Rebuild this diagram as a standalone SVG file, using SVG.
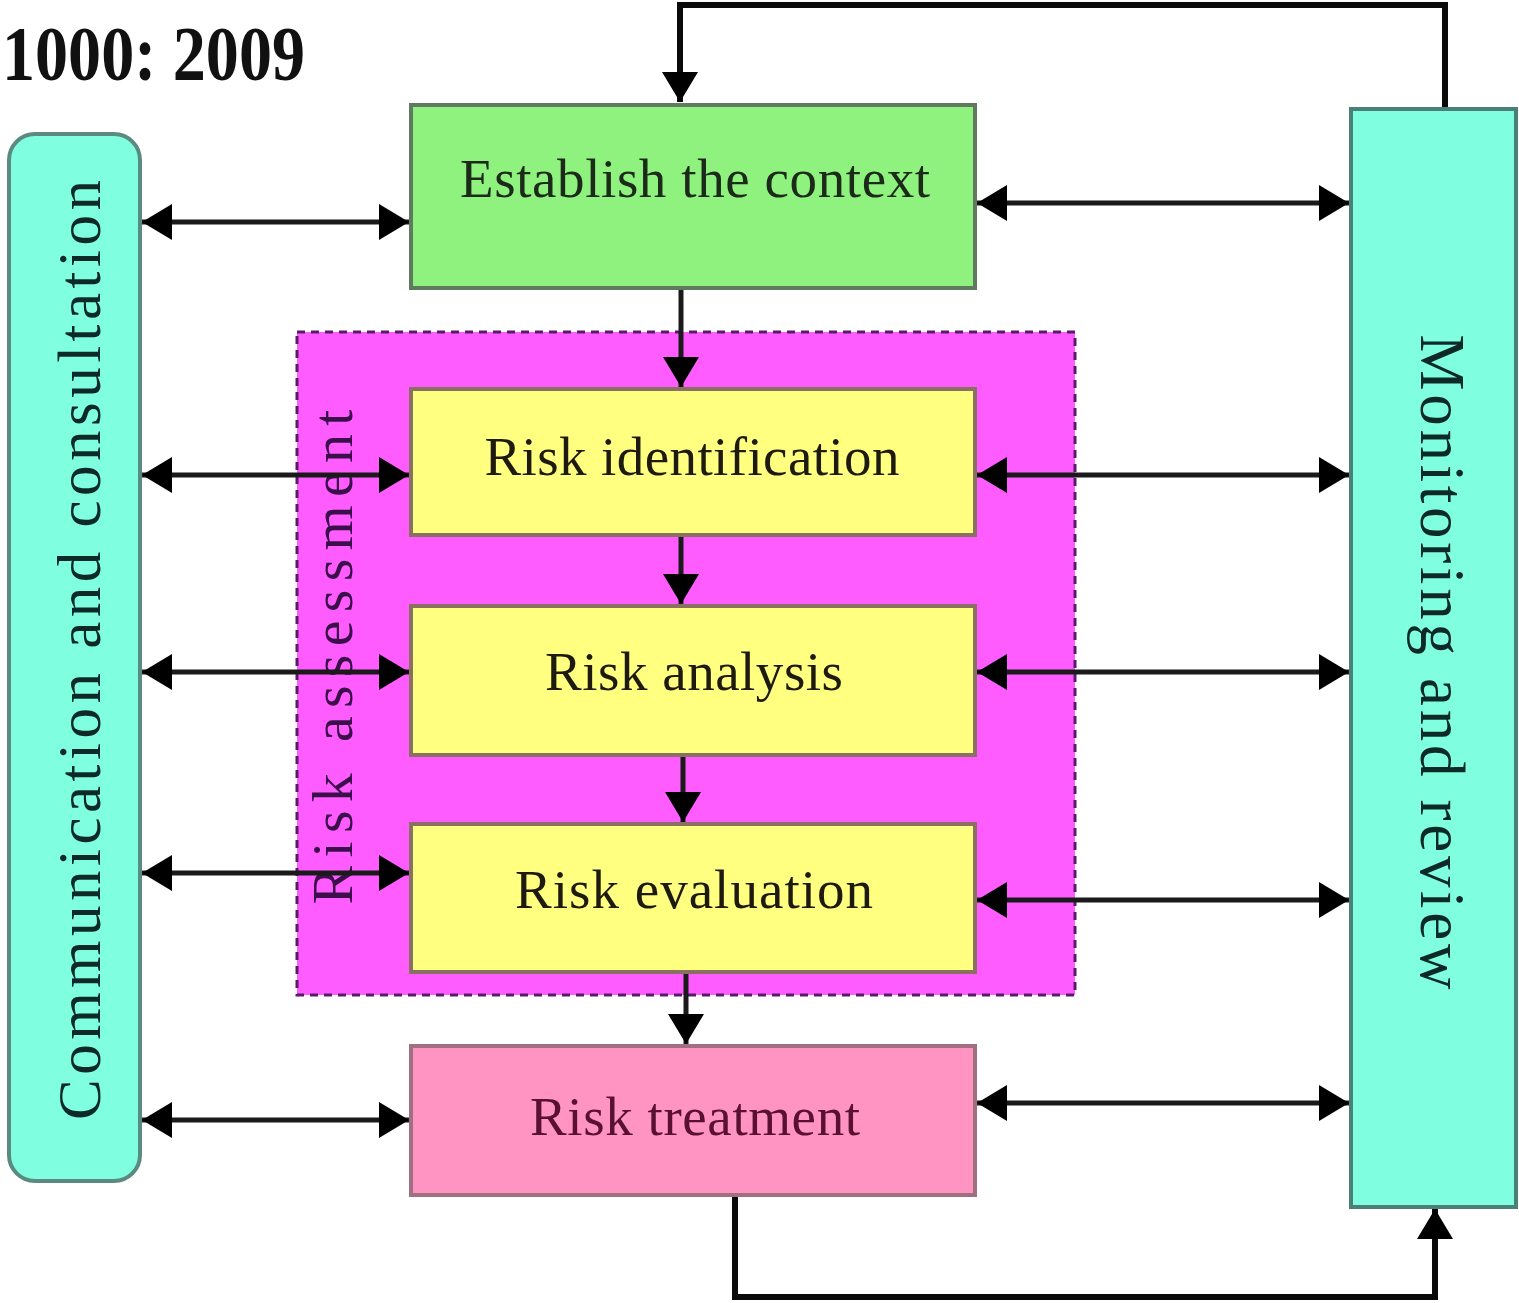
<svg xmlns="http://www.w3.org/2000/svg" width="1519" height="1303" viewBox="0 0 1519 1303">
<style>
.lbl{font-family:"Liberation Serif","DejaVu Serif",serif;text-anchor:middle}
.box{stroke-width:4}
.conn{fill:none;stroke:#1a1a1a;stroke-width:5}
.loop{fill:none;stroke:#0a0a0a;stroke-width:6}
</style>
<defs>
<marker id="ah" viewBox="0 0 30 36" refX="30" refY="18" markerWidth="30" markerHeight="36" markerUnits="userSpaceOnUse" orient="auto-start-reverse">
<path d="M0,0 L30,18 L0,36 z" fill="#000"/>
</marker>
</defs>
<rect width="1519" height="1303" fill="#fff"/>
<text x="2" y="80" class="lbl" style="text-anchor:start;font-weight:bold" font-size="78" textLength="303" lengthAdjust="spacingAndGlyphs" fill="#111">1000: 2009</text>

<g id="risk-assessment">
<rect x="297" y="332" width="778" height="663" fill="#FF5CFF" stroke="#5a1a6a" stroke-width="3" stroke-dasharray="8,6"/>
<text class="lbl" transform="translate(352,657) rotate(-90)" font-size="58" textLength="495" lengthAdjust="spacing" fill="#3a0f4a">Risk assessment</text>
</g>

<g id="communication">
<rect x="9" y="134" width="131" height="1047" rx="26" fill="#80FFE0" stroke="#5a8a80" class="box"/>
<text class="lbl" transform="translate(100,650) rotate(-90)" font-size="61" textLength="940" lengthAdjust="spacing" fill="#0e2a28">Communication and consultation</text>
</g>

<g id="monitoring">
<rect x="1351" y="109" width="165" height="1098" fill="#80FFE0" stroke="#4a8078" class="box"/>
<text class="lbl" transform="translate(1421,662) rotate(90)" font-size="63" textLength="655" lengthAdjust="spacing" fill="#0e2a28">Monitoring and review</text>
</g>

<g id="establish">
<rect x="411" y="105" width="564" height="183" fill="#90F27E" stroke="#5f7a5f" class="box"/>
<text x="695" y="197" class="lbl" font-size="55" textLength="470" lengthAdjust="spacing" fill="#1c2a1a">Establish the context</text>
</g>

<g id="identification">
<rect x="411" y="389" width="564" height="146" fill="#FFFF80" stroke="#8a7060" class="box"/>
<text x="692" y="475" class="lbl" font-size="55" textLength="415" lengthAdjust="spacing" fill="#1e1a10">Risk identification</text>
</g>

<g id="analysis">
<rect x="411" y="606" width="564" height="149" fill="#FFFF80" stroke="#8a7060" class="box"/>
<text x="694" y="690" class="lbl" font-size="55" textLength="298" lengthAdjust="spacing" fill="#1e1a10">Risk analysis</text>
</g>

<g id="evaluation">
<rect x="411" y="824" width="564" height="148" fill="#FFFF80" stroke="#8a7060" class="box"/>
<text x="694" y="908" class="lbl" font-size="55" textLength="358" lengthAdjust="spacing" fill="#1e1a10">Risk evaluation</text>
</g>

<g id="treatment">
<rect x="411" y="1046" width="564" height="149" fill="#FF94C2" stroke="#a07080" class="box"/>
<text x="695" y="1135" class="lbl" font-size="55" textLength="330" lengthAdjust="spacing" fill="#5a1030">Risk treatment</text>
</g>

<g id="connectors">
<path class="loop" d="M1445,107 V5 H680 V102" marker-end="url(#ah)"/>
<path class="loop" d="M735,1197 V1297 H1435 V1209" marker-end="url(#ah)"/>
<line class="conn" x1="681" y1="290" x2="681" y2="387" marker-end="url(#ah)"/>
<line class="conn" x1="681" y1="537" x2="681" y2="604" marker-end="url(#ah)"/>
<line class="conn" x1="683" y1="757" x2="683" y2="822" marker-end="url(#ah)"/>
<line class="conn" x1="686" y1="974" x2="686" y2="1044" marker-end="url(#ah)"/>
<line class="conn" x1="142" y1="222" x2="409" y2="222" marker-start="url(#ah)" marker-end="url(#ah)"/>
<line class="conn" x1="142" y1="475" x2="409" y2="475" marker-start="url(#ah)" marker-end="url(#ah)"/>
<line class="conn" x1="142" y1="672" x2="409" y2="672" marker-start="url(#ah)" marker-end="url(#ah)"/>
<line class="conn" x1="142" y1="873" x2="409" y2="873" marker-start="url(#ah)" marker-end="url(#ah)"/>
<line class="conn" x1="142" y1="1120" x2="409" y2="1120" marker-start="url(#ah)" marker-end="url(#ah)"/>
<line class="conn" x1="977" y1="203" x2="1349" y2="203" marker-start="url(#ah)" marker-end="url(#ah)"/>
<line class="conn" x1="977" y1="475" x2="1349" y2="475" marker-start="url(#ah)" marker-end="url(#ah)"/>
<line class="conn" x1="977" y1="672" x2="1349" y2="672" marker-start="url(#ah)" marker-end="url(#ah)"/>
<line class="conn" x1="977" y1="900" x2="1349" y2="900" marker-start="url(#ah)" marker-end="url(#ah)"/>
<line class="conn" x1="977" y1="1103" x2="1349" y2="1103" marker-start="url(#ah)" marker-end="url(#ah)"/>
</g>
</svg>
